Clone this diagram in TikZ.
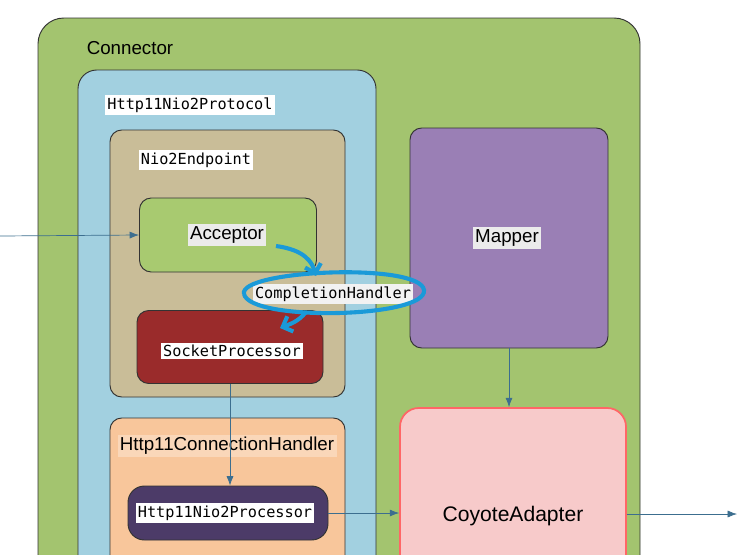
\documentclass[tikz,border=0pt]{standalone}
\usepackage{fontspec}
\setmainfont{Liberation Sans}
\newfontfamily\codefont{DejaVu Sans Mono}
\usetikzlibrary{arrows.meta}
\definecolor{conngreen}{HTML}{A3C46F}
\definecolor{protoblue}{HTML}{A2D0E0}
\definecolor{endtan}{HTML}{C9BD98}
\definecolor{accgreen}{HTML}{A8CA70}
\definecolor{sockred}{HTML}{9A2B2B}
\definecolor{mapviolet}{HTML}{9A7FB5}
\definecolor{coyopink}{HTML}{F7CACA}
\definecolor{handorange}{HTML}{F8C69B}
\definecolor{procviolet}{HTML}{4C3B68}
\definecolor{penblue}{HTML}{1A9AD8}
\definecolor{linkblue}{HTML}{3C6E8F}
\tikzset{
  box/.style={draw=black!80, rounded corners=10pt, line width=0.8pt},
  code/.style={fill=white, inner sep=2pt, font=\codefont\fontsize{13}{15}\selectfont},
  word/.style={inner sep=2pt, font=\fontsize{16}{19}\selectfont},
  link/.style={draw=linkblue, semithick, -{Latex[length=8pt]}},
}
\begin{document}
\begin{tikzpicture}[x=0.03cm, y=-0.03cm]
  \useasboundingbox (0,0) rectangle (740,554);
  \begin{scope}
    \clip (0,0) rectangle (740,554);
    % boxes
    \draw[box, fill=conngreen, rounded corners=22pt] (38,18) rectangle (640,600);
    \draw[box, fill=protoblue, rounded corners=16pt] (78,70) rectangle (376,600);
    \draw[box, fill=endtan] (110,130) rectangle (345,397);
    \node[box, fill=accgreen, minimum width=177*0.03cm, minimum height=74*0.03cm] (acc) at (228,235) {};
    \node[box, fill=sockred, minimum width=186*0.03cm, minimum height=73*0.03cm] (sock) at (230,347) {};
    \node[box, fill=mapviolet, minimum width=198*0.03cm, minimum height=220*0.03cm] (map) at (509,238) {};
    \draw[box, fill=handorange] (110,418) rectangle (345,600);
    \node[box, draw=red!60, fill=coyopink, line width=1.5pt, rounded corners=16pt, minimum width=226*0.03cm, minimum height=220*0.03cm] (coyo) at (513,518) {};
    \node[box, fill=procviolet, rounded corners=14pt, minimum width=200*0.03cm, minimum height=54*0.03cm] (proc) at (228,513) {};
    % labels
    \node[word] (lconn) at (130,48) {Connector};
    \node[code] (lproto) at (190,105) {Http11Nio2Protocol};
    \node[code] (lend) at (196,160) {Nio2Endpoint};
    \node[word, fill=black!8] (lacc) at (227,235) {Acceptor};
    \node[code] (lsock) at (232,351) {SocketProcessor};
    \node[word, fill=black!8] (lmap) at (507,238) {Mapper};
    \node[word, fill=handorange!70!white] (lhand) at (227,446) {Http11ConnectionHandler};
    \node[code] (lproc) at (225,513) {Http11Nio2Processor};
    \node[word, font=\fontsize{18}{21}\selectfont] (lcoyo) at (513,516) {CoyoteAdapter};
    \node[code, fill=black!5] (lcomp) at (333,294) {CompletionHandler};
    \draw[penblue, line width=3.5pt] (244,294)
      .. controls (238,270) and (420,262) .. (424,290)
      .. controls (428,318) and (250,322) .. (244,294);
    % pen strokes
    \coordinate (pen1) at (276,246);
    \coordinate (pen2) at (316,276);
    \draw[penblue, line width=3.5pt, -{Straight Barb[length=7pt]}] (pen1) .. controls (305,250) and (312,262) .. (pen2);
    \coordinate (pen3) at (306,312);
    \coordinate (pen4) at (280,328);
    \draw[penblue, line width=3.5pt, -{Straight Barb[length=7pt]}] (pen3) .. controls (298,322) and (290,324) .. (pen4);
    % connectors
    \coordinate (src) at (0,236);
    \coordinate (dst) at (737,514);
    \draw[link] (src) -- (acc.west);
    \draw[link] (map.south) -- (coyo.north -| map.south);
    \draw[link] (sock.south) -- (proc.north -| sock.south);
    \draw[link] (proc.east) -- (proc.east -| coyo.west);
    \draw[link] (coyo.east |- dst) -- (dst);
  \end{scope}
\end{tikzpicture}
\end{document}
